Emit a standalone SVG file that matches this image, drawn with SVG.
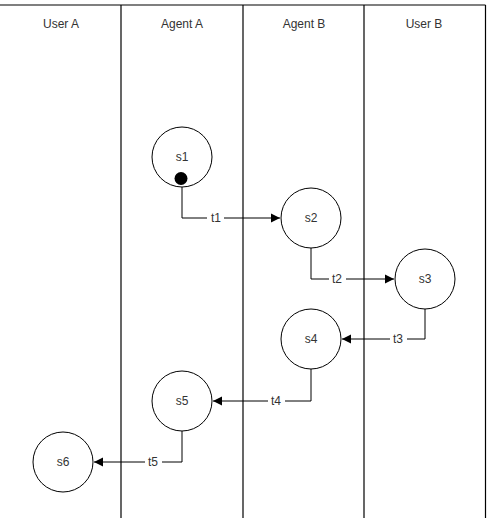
<svg xmlns="http://www.w3.org/2000/svg" width="492" height="518" viewBox="0 0 492 518">
<defs>
<style>
.lane{stroke:#000;stroke-width:1.2;fill:none}
.st{fill:#fff;stroke:#000;stroke-width:1}
.lbl{font-family:"Liberation Sans",Arial,sans-serif;font-size:12px;fill:#333;text-anchor:middle}
.hd{font-family:"Liberation Sans",Arial,sans-serif;font-size:12px;fill:#333;text-anchor:middle}
.cn{stroke:#000;stroke-width:1;fill:none}
.tl{font-family:"Liberation Sans",Arial,sans-serif;font-size:12px;fill:#333;text-anchor:middle}
</style>
<marker id="arr" markerWidth="10" markerHeight="10" refX="9" refY="5" orient="auto" markerUnits="userSpaceOnUse">
<path d="M0,0.5 L9,5 L0,9.5 Z" fill="#000"/>
</marker>
</defs>
<rect width="492" height="518" fill="#fff"/>
<g id="lanes">
<line class="lane" x1="0" y1="5" x2="485.5" y2="5"/>
<line class="lane" x1="121" y1="5" x2="121" y2="518"/>
<line class="lane" x1="243" y1="5" x2="243" y2="518"/>
<line class="lane" x1="364" y1="5" x2="364" y2="518"/>
<line class="lane" x1="485.5" y1="5" x2="485.5" y2="518"/>
<text class="hd" x="61" y="28">User A</text>
<text class="hd" x="182" y="28">Agent A</text>
<text class="hd" x="304" y="28">Agent B</text>
<text class="hd" x="424" y="28">User B</text>
</g>
<g id="connectors">
<path class="cn" d="M182,185 V218 H280" marker-end="url(#arr)"/>
<path class="cn" d="M311,248 V279 H394" marker-end="url(#arr)"/>
<path class="cn" d="M425,309 V339 H342" marker-end="url(#arr)"/>
<path class="cn" d="M311,369 V401 H213" marker-end="url(#arr)"/>
<path class="cn" d="M182,431 V462 H94" marker-end="url(#arr)"/>
<rect x="207" y="211" width="17" height="14" fill="#fff"/>
<text class="tl" x="216" y="222">t1</text>
<rect x="329" y="272" width="17" height="14" fill="#fff"/>
<text class="tl" x="337" y="283">t2</text>
<rect x="390" y="332" width="17" height="14" fill="#fff"/>
<text class="tl" x="398" y="343">t3</text>
<rect x="268" y="394" width="17" height="14" fill="#fff"/>
<text class="tl" x="276" y="405">t4</text>
<rect x="145" y="455" width="17" height="14" fill="#fff"/>
<text class="tl" x="153" y="466">t5</text>
</g>
<g id="s1"><circle class="st" cx="182" cy="157" r="30"/><text class="lbl" x="182" y="161">s1</text><circle cx="181" cy="178.5" r="6.5" fill="#000"/></g>
<g id="s2"><circle class="st" cx="311" cy="218" r="30"/><text class="lbl" x="311" y="222">s2</text></g>
<g id="s3"><circle class="st" cx="425" cy="279" r="30"/><text class="lbl" x="425" y="283">s3</text></g>
<g id="s4"><circle class="st" cx="311" cy="339" r="30"/><text class="lbl" x="311" y="343">s4</text></g>
<g id="s5"><circle class="st" cx="182" cy="401" r="30"/><text class="lbl" x="182" y="405">s5</text></g>
<g id="s6"><circle class="st" cx="63" cy="462" r="30"/><text class="lbl" x="63" y="466">s6</text></g>
</svg>
